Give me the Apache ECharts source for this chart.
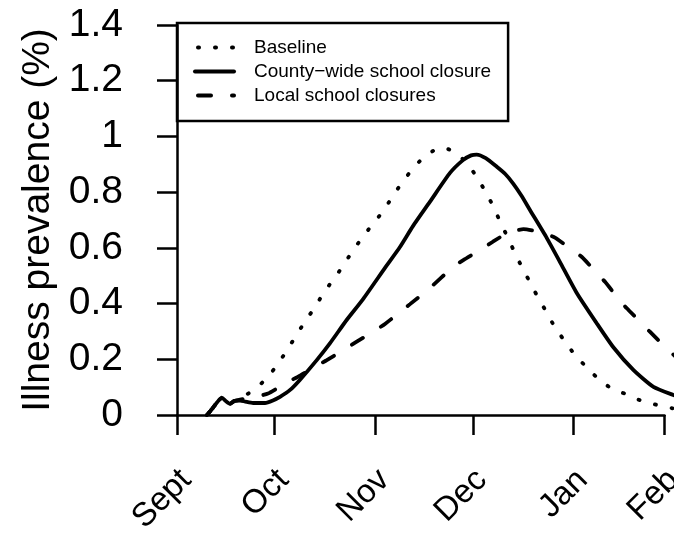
<!DOCTYPE html>
<html>
<head>
<meta charset="utf-8">
<script src="https://cdn.jsdelivr.net/npm/echarts@6/dist/echarts.min.js"></script>
<style>
html,body{margin:0;padding:0;background:#fff;}
#chart{width:674px;height:535px;}
</style>
</head>
<body>
<div id="chart"></div>
<script>
// x values are days after 1 September
const monthTicks = [0, 30, 61, 91, 122, 150];
const monthLabels = ['Sept', 'Oct', 'Nov', 'Dec', 'Jan', 'Feb'];
const yTicks = [0, 0.2, 0.4, 0.6, 0.8, 1, 1.2, 1.4];
const seriesNames = ['Baseline', 'County\u2212wide school closure', 'Local school closures'];

const baseline = [[9.2,0],[10.8,0.022],[12.3,0.045],[13.8,0.062],[15.0,0.05],[16.3,0.04],[17.6,0.05],[19.4,0.058],
  [21.5,0.074],[23.7,0.09],[27.5,0.131],[30.8,0.179],[33.7,0.230],[36.5,0.282],[39.2,0.332],[42.2,0.383],
  [44.9,0.434],[48,0.485],[51.1,0.535],[53.8,0.585],[56.9,0.635],[60,0.682],[63.3,0.730],[66.1,0.780],
  [69.1,0.832],[72.2,0.879],[75.8,0.924],[79.9,0.955],[82.3,0.958],[84.7,0.948],[88.3,0.915],[91.7,0.864],
  [94.5,0.810],[97,0.756],[99.2,0.700],[101.4,0.646],[103.6,0.591],[105.9,0.536],[108.3,0.483],[110.8,0.428],
  [113.3,0.377],[115.9,0.323],[118.8,0.273],[121.9,0.224],[125.4,0.179],[129.1,0.136],[133.2,0.099],
  [138.1,0.075],[142.9,0.051],[147.7,0.036],[152.5,0.024],[156,0.018]];

const countyWide = [[9.2,0],[10.8,0.022],[12.3,0.045],[13.8,0.062],[15.0,0.05],[16.3,0.04],[17.6,0.05],[19.4,0.052],
  [21,0.048],[23.4,0.043],[27.1,0.043],[29.5,0.052],[31.7,0.065],[34.8,0.09],[37.8,0.126],[43,0.197],
  [47.1,0.258],[52.2,0.341],[57.2,0.415],[64,0.528],[68.6,0.603],[72.6,0.678],[77.8,0.765],[84,0.869],
  [88,0.915],[90.5,0.932],[92.2,0.935],[95,0.922],[98.4,0.891],[101,0.865],[103.5,0.830],[106,0.787],
  [108.6,0.736],[113.8,0.635],[117.8,0.55],[123,0.438],[129.1,0.330],[134.2,0.244],[140.4,0.162],
  [146.6,0.101],[152.7,0.072],[156,0.06]];

const localClosures = [[9.2,0],[10.8,0.022],[12.3,0.045],[13.8,0.062],[15.0,0.05],[16.3,0.04],[17.6,0.05],[19.4,0.055],
  [21.5,0.06],[24.5,0.066],[28,0.077],[31,0.097],[33.8,0.117],[37.2,0.137],[42.5,0.173],[46.1,0.197],
  [51.7,0.237],[55.3,0.263],[60.3,0.299],[64,0.327],[71.7,0.398],[77.8,0.456],[85,0.532],[88.1,0.556],
  [93.2,0.592],[97.2,0.622],[101.4,0.652],[104,0.661],[106.6,0.667],[109.5,0.662],[112.7,0.652],[116.3,0.637],
  [120.9,0.598],[124.5,0.568],[128.6,0.517],[131.7,0.478],[135.3,0.425],[138.4,0.383],[142.5,0.335],
  [145.5,0.299],[149.6,0.251],[152.9,0.215],[156,0.18]];

const FONT = '"Liberation Sans", Arial, Helvetica, sans-serif';
const chart = echarts.init(document.getElementById('chart'), null, {renderer: 'canvas'});

const lineW = 3.8;
chart.setOption({
  animation: false,
  backgroundColor: '#ffffff',
  textStyle: {fontFamily: FONT, color: '#000'},
  grid: [
    {left: 177, top: 25, width: 507, height: 390, outerBoundsMode: 'none'},
    {left: 177, top: 25, width: 487.5, height: 390, outerBoundsMode: 'none'},
    {left: 186, top: 25, width: 487.5, height: 390, outerBoundsMode: 'none'}
  ],
  legend: {
    left: 177, top: 23,
    orient: 'vertical',
    selectedMode: false,
    borderColor: '#000', borderWidth: 2.5,
    padding: [15, 17, 16, 16],
    itemGap: 5, itemWidth: 39, itemHeight: 19,
    itemStyle: {opacity: 0, color: 'transparent', borderWidth: 0},
    lineStyle: {width: 4, color: '#000', opacity: 1},
    textStyle: {fontSize: 19, color: '#000', fontFamily: FONT, padding: [0, 0, 0, 15]},
    data: seriesNames
  },
  xAxis: [
    {gridIndex: 0, type: 'value', min: 0, max: 156, show: false},
    {gridIndex: 1, type: 'value', min: 0, max: 150, offset: 16,
      axisLine: {show: true, lineStyle: {color: '#000', width: 2.5}},
      axisTick: {show: true, customValues: monthTicks, length: 20, lineStyle: {color: '#000', width: 2.5}},
      axisLabel: {show: false}, splitLine: {show: false}},
    {gridIndex: 2, type: 'value', min: 0, max: 150, offset: 16,
      axisLine: {show: false}, axisTick: {show: false}, splitLine: {show: false},
      axisLabel: {show: true, customValues: monthTicks, rotate: 45, margin: 44,
        fontSize: 33, color: '#000', fontFamily: FONT, hideOverlap: false,
        formatter: function (v) { const i = monthTicks.indexOf(v); return i >= 0 ? monthLabels[i] : ''; }}}
  ],
  yAxis: [
    {gridIndex: 0, type: 'value', min: 0, max: 1.4, interval: 0.2, offset: 20,
      name: 'Illness prevalence (%)', nameLocation: 'middle', nameGap: 99,
      nameTextStyle: {fontSize: 39, color: '#000', fontFamily: FONT},
      axisLine: {show: true, lineStyle: {color: '#000', width: 2.5}},
      axisTick: {show: true, length: 20, lineStyle: {color: '#000', width: 2.5}},
      axisLabel: {show: true, margin: 34, fontSize: 39, color: '#000', fontFamily: FONT,
        customValues: yTicks},
      splitLine: {show: false}},
    {gridIndex: 1, type: 'value', show: false},
    {gridIndex: 2, type: 'value', show: false}
  ],
  series: [
    {name: seriesNames[0], type: 'line', xAxisIndex: 0, yAxisIndex: 0, data: baseline,
      symbol: 'none', smooth: 0.2, clip: false, itemStyle: {color: '#000'},
      lineStyle: {color: '#000', width: lineW, type: [1, 16], dashOffset: -3, cap: 'round'}},
    {name: seriesNames[1], type: 'line', xAxisIndex: 0, yAxisIndex: 0, data: countyWide,
      symbol: 'none', smooth: 0.2, clip: false, itemStyle: {color: '#000'},
      lineStyle: {color: '#000', width: lineW, type: 'solid', cap: 'round', join: 'round'}},
    {name: seriesNames[2], type: 'line', xAxisIndex: 0, yAxisIndex: 0, data: localClosures,
      symbol: 'none', smooth: 0.2, clip: false, itemStyle: {color: '#000'},
      lineStyle: {color: '#000', width: lineW, type: [13, 21], cap: 'round'}}
  ]
});
</script>
</body>
</html>
